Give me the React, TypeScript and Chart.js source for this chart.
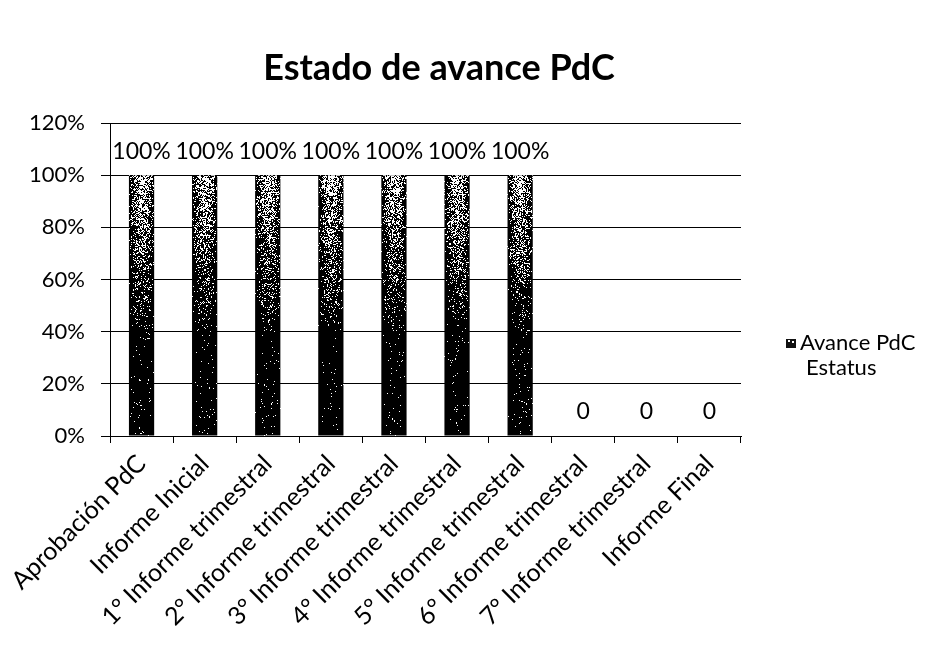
import React, { useEffect, useRef } from 'react';
import { Chart, registerables } from 'chart.js';

Chart.register(...registerables);

const chartTitle = 'Estado de avance PdC';
const categories = [
  'Aprobación PdC',
  'Informe Inicial',
  '1° Informe trimestral',
  '2° Informe trimestral',
  '3° Informe trimestral',
  '4° Informe trimestral',
  '5° Informe trimestral',
  '6° Informe trimestral',
  '7° Informe trimestral',
  'Informe Final',
];
const avanceValues = [1, 1, 1, 1, 1, 1, 1, 0, 0, 0];
const legendLines = ['Avance PdC', 'Estatus'];
const yMin = 0;
const yMax = 1.2;
const yStep = 0.2;

const FONT = 'Lato, "Open Sans", sans-serif';
const W = 940;
const H = 654;

function hash(x: number, y: number): number {
  let h = (Math.imul(x, 374761393) + Math.imul(y, 668265263)) | 0;
  h = Math.imul(h ^ (h >>> 13), 1274126177);
  h = h ^ (h >>> 16);
  return (h >>> 0) / 4294967296;
}

function fmtLabel(v: number): string {
  return v === 0 ? '0' : `${Math.round(v * 100)}%`;
}

const patternPlugin = {
  id: 'stipplePattern',
  afterLayout(chart: any) {
    const xs = chart.scales.x;
    const ys = chart.scales.y;
    const off = document.createElement('canvas');
    off.width = chart.width;
    off.height = chart.height;
    const octx = off.getContext('2d')!;
    const img = octx.createImageData(off.width, off.height);
    const catW = (xs.right - xs.left) / categories.length;
    const barW = catW * 0.4;
    avanceValues.forEach((v, i) => {
      if (v <= 0) return;
      const cx = xs.getPixelForValue(i);
      const x0 = Math.floor(cx - barW / 2) - 1;
      const x1 = Math.ceil(cx + barW / 2) + 1;
      const yTop = Math.floor(ys.getPixelForValue(v)) - 1;
      const yBot = Math.ceil(ys.getPixelForValue(0)) + 1;
      for (let py = Math.max(0, yTop); py < Math.min(off.height, yBot); py++) {
        const yN = Math.min(1, Math.max(0, (py - yTop) / (yBot - yTop)));
        const center = 0.3 + 0.67 * Math.pow(Math.min(1, yN / 0.6), 0.9);
        for (let px = Math.max(0, x0); px < Math.min(off.width, x1); px++) {
          const xN = (px - (cx - barW / 2)) / barW;
          const e = Math.min(1, Math.abs(xN - 0.5) * 2);
          const d = center + (1 - center) * Math.pow(e, 1.8) * 0.95;
          const black = hash(px, py) < d;
          const k = (py * off.width + px) * 4;
          const c = black ? 0 : 255;
          img.data[k] = c;
          img.data[k + 1] = c;
          img.data[k + 2] = c;
          img.data[k + 3] = 255;
        }
      }
    });
    octx.putImageData(img, 0, 0);
    chart.$stipple = chart.ctx.createPattern(off, 'no-repeat');
  },
};

const decorPlugin = {
  id: 'decor',
  afterDraw(chart: any) {
    const ctx = chart.ctx as CanvasRenderingContext2D;
    ctx.save();
    // Title
    ctx.fillStyle = '#000';
    ctx.font = `bold 36px ${FONT}`;
    ctx.textAlign = 'center';
    ctx.textBaseline = 'middle';
    ctx.fillText(chartTitle, 439, 68);

    // Legend
    ctx.fillStyle = '#111';
    ctx.fillRect(786, 339, 10, 9);
    ctx.fillStyle = '#fff';
    ctx.fillRect(788, 340, 2, 2);
    ctx.fillRect(792, 341, 2, 2);
    ctx.fillStyle = '#000';
    ctx.font = `22px ${FONT}`;
    ctx.textAlign = 'left';
    ctx.textBaseline = 'middle';
    ctx.fillText(legendLines[0], 800, 343);
    ctx.fillText(legendLines[1], 806, 368);
    ctx.restore();
  },
  afterDatasetsDraw(chart: any) {
    const ctx = chart.ctx as CanvasRenderingContext2D;
    const meta = chart.getDatasetMeta(0);
    ctx.save();
    ctx.fillStyle = '#000';
    ctx.font = `23px ${FONT}`;
    ctx.textAlign = 'center';
    ctx.textBaseline = 'middle';
    meta.data.forEach((bar: any, i: number) => {
      ctx.fillText(fmtLabel(avanceValues[i]), bar.x, bar.y - 24);
    });
    ctx.restore();
  },
};

export default function App() {
  const ref = useRef<HTMLCanvasElement | null>(null);
  useEffect(() => {
    if (!ref.current) return;
    const chart = new Chart(ref.current, {
      type: 'bar',
      data: {
        labels: categories,
        datasets: [
          {
            label: legendLines.join(' '),
            data: avanceValues,
            backgroundColor: (c: any) => c.chart.$stipple || '#222',
            borderWidth: 0,
            barPercentage: 0.4,
            categoryPercentage: 1,
          },
        ],
      },
      options: {
        responsive: false,
        animation: false,
        devicePixelRatio: 1,
        layout: { padding: { top: 123, right: 199, left: 0, bottom: 0 } },
        plugins: {
          legend: { display: false },
          title: { display: false },
          tooltip: { enabled: false },
        },
        scales: {
          x: {
            afterFit: (s: any) => {
              s.height = H - 436;
            },
            grid: {
              display: true,
              drawOnChartArea: false,
              drawTicks: true,
              tickLength: 7,
              color: '#000',
              offset: true,
            },
            border: { display: true, color: '#000', width: 1 },
            ticks: {
              color: '#000',
              font: { family: FONT, size: 25 },
              maxRotation: 45,
              minRotation: 45,
              autoSkip: false,
              padding: 6,
            },
          },
          y: {
            min: yMin,
            max: yMax,
            afterFit: (s: any) => {
              s.width = 110;
            },
            grid: {
              color: '#000',
              lineWidth: 1,
              drawTicks: true,
              tickLength: 9,
            },
            border: { display: true, color: '#000', width: 1 },
            ticks: {
              stepSize: yStep,
              color: '#000',
              font: { family: FONT, size: 22 },
              padding: 16,
              callback: (v: any) => `${Math.round(Number(v) * 100)}%`,
            },
          },
        },
      },
      plugins: [patternPlugin, decorPlugin],
    } as any);
    return () => chart.destroy();
  }, []);
  return (
    <div style={{ position: 'fixed', left: 0, top: 0, width: W, height: H, background: '#fff' }}>
      <canvas ref={ref} width={W} height={H} style={{ display: 'block', width: W, height: H }} />
    </div>
  );
}
